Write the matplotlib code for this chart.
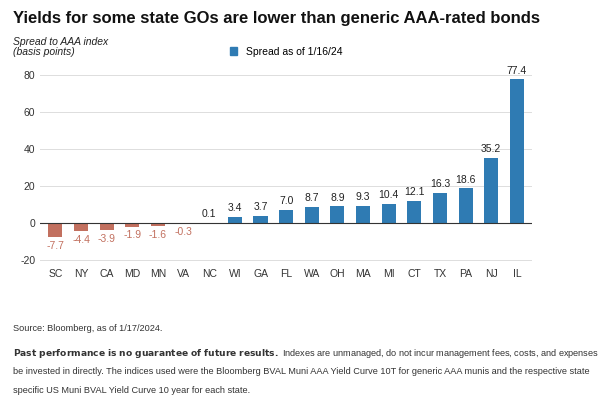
import matplotlib.pyplot as plt
from matplotlib.patches import Patch
import numpy as np

plt.rcParams['font.family'] = ['Liberation Sans', 'DejaVu Sans']
plt.rcParams['axes.unicode_minus'] = False

states = ['SC', 'NY', 'CA', 'MD', 'MN', 'VA', 'NC', 'WI', 'GA', 'FL', 'WA', 'OH',
          'MA', 'MI', 'CT', 'TX', 'PA', 'NJ', 'IL']
spread = [-7.7, -4.4, -3.9, -1.9, -1.6, -0.3, 0.1, 3.4, 3.7, 7.0, 8.7, 8.9,
          9.3, 10.4, 12.1, 16.3, 18.6, 35.2, 77.4]
yticks = [-20, 0, 20, 40, 60, 80]

blue = '#2f7bb3'
red = '#c2705f'

fig = plt.figure(figsize=(5.98, 4.09), dpi=100)
ax = fig.add_axes([0.067, 0.355, 0.823, 0.49])

x = np.arange(len(states))
colors = [red if v < 0 else blue for v in spread]
ax.bar(x, spread, width=0.55, color=colors, zorder=3)
for xi, v in zip(x, spread):
    if v < 0:
        ax.text(xi, v - 2, f'{v:.1f}', ha='center', va='top', fontsize=7.5, color=red)
    else:
        ax.text(xi, v + 2, f'{v:.1f}', ha='center', va='bottom', fontsize=7.5, color='#222222')

ax.set_xlim(-0.6, len(states) - 0.4)
ax.set_ylim(-22, 86)
ax.set_yticks(yticks)
ax.set_xticks(x)
ax.set_xticklabels(states)
ax.tick_params(length=0, labelsize=7.5, colors='#333333')
ax.grid(axis='y', color='#dddddd', linewidth=0.7, zorder=0)
ax.axhline(0, color='#333333', linewidth=0.8, zorder=4)
for s in ax.spines.values():
    s.set_visible(False)

ax.legend(handles=[Patch(color=blue, label='Spread as of 1/16/24')],
          loc='upper center', bbox_to_anchor=(0.5, 1.13), frameon=False, fontsize=7.5,
          handlelength=0.7, handleheight=0.7)

fig.text(0.022, 0.955, 'Yields for some state GOs are lower than generic AAA-rated bonds',
         fontsize=12, fontweight='bold', va='center', color='#111111')
fig.text(0.022, 0.885, 'Spread to AAA index\n(basis points)', fontsize=7.5, style='italic',
         va='center', color='#222222', linespacing=1.1)

fs = 6.6
fig.text(0.022, 0.19, 'Source: Bloomberg, as of 1/17/2024.', fontsize=fs, color='#333333')
fig.text(0.022, 0.13, r'$\bf{Past\ performance\ is\ no\ guarantee\ of\ future\ results.}$'
         ' Indexes are unmanaged, do not incur management fees, costs, and expenses and cannot',
         fontsize=fs, color='#333333')
fig.text(0.022, 0.085, 'be invested in directly. The indices used were the Bloomberg BVAL Muni AAA Yield Curve 10T '
         'for generic AAA munis and the respective state', fontsize=fs, color='#333333')
fig.text(0.022, 0.04, 'specific US Muni BVAL Yield Curve 10 year for each state.', fontsize=fs, color='#333333')

fig.savefig('out.png', dpi=100)
